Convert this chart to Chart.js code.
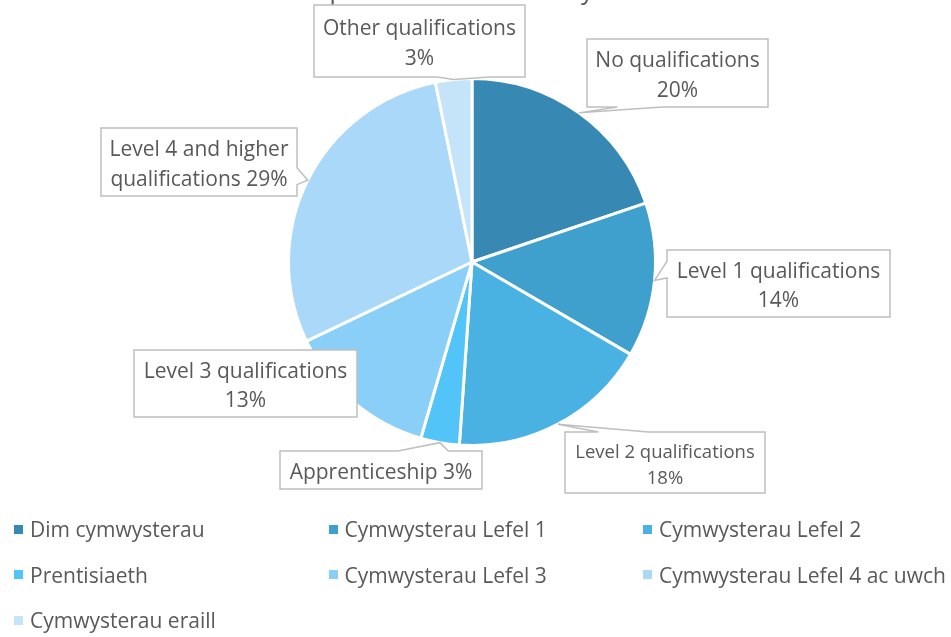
<!DOCTYPE html>
<html>
<head>
<meta charset="utf-8">
<script src="https://cdn.jsdelivr.net/npm/chart.js@4/dist/chart.umd.min.js"></script>
<style>
    html, body { margin: 0; padding: 0; background: #fff; }
    #wrap { position: relative; width: 951px; height: 637px; overflow: hidden; }
    #legend { position: absolute; left: 14px; top: 514px; width: 940px; font-family: 'Open Sans', sans-serif; font-size: 21px; line-height: 30px; color: #595959; }
    .item { position: absolute; display: flex; align-items: center; white-space: nowrap; }
    .swatch { width: 9px; height: 9px; margin-right: 7px; }
</style>
</head>
<body>
<div id="wrap">
    <canvas id="chart" width="951" height="637"></canvas>
    <div id="legend"></div>
</div>
<script>
// Chart data
const legendLabels = ['Dim cymwysterau', 'Cymwysterau Lefel 1', 'Cymwysterau Lefel 2', 'Prentisiaeth',
    'Cymwysterau Lefel 3', 'Cymwysterau Lefel 4 ac uwch', 'Cymwysterau eraill'];
const values = [19.8, 13.6, 17.7, 3.4, 13.4, 28.9, 3.2];
// callout text, {p} is replaced by the rounded percentage
const calloutText = [
    ['No qualifications', '{p}'],
    ['Level 1 qualifications', '{p}'],
    ['Level 2 qualifications', '{p}'],
    ['Apprenticeship {p}'],
    ['Level 3 qualifications', '{p}'],
    ['Level 4 and higher', 'qualifications {p}'],
    ['Other qualifications', '{p}']
];
const chartTitle = 'Population of the area by level';

// Styling / layout
const colors = ['#3789b3', '#40a0cd', '#4ab2e3', '#53c4f7', '#89cff7', '#a9d8f8', '#c5e3f9'];
const calloutBoxes = [
    [587, 39, 181, 68],
    [667, 250, 223, 67],
    [565, 432, 200, 61],
    [280, 451, 202, 38],
    [134, 350, 223, 67],
    [101, 128, 196, 68],
    [314, 5, 211, 72]
];
const calloutFont = [21, 21, 18.5, 21, 21, 21, 21];
const FONT = "'Open Sans', sans-serif";
const TEXT = '#595959';

// Excel style rectangular callout with a wedge pointing at the slice
function drawCallout(ctx, box, tip) {
    const [x, y, w, h] = box;
    const hc = x + w / 2, vc = y + h / 2;
    const dx = tip.x - hc, dy = tip.y - vc;
    const inside = tip.x > x && tip.x < x + w && tip.y > y && tip.y < y + h;
    const xb1 = x + w * (dx > 0 ? 7 : 2) / 12, xb2 = x + w * (dx > 0 ? 10 : 5) / 12;
    const yb1 = y + h * (dy > 0 ? 7 : 2) / 12, yb2 = y + h * (dy > 0 ? 10 : 5) / 12;
    const vertical = Math.abs(dy) > Math.abs(dx * h / w);

    ctx.beginPath();
    ctx.moveTo(x, y);
    if (!inside && vertical && dy < 0) { ctx.lineTo(xb1, y); ctx.lineTo(tip.x, tip.y); ctx.lineTo(xb2, y); }
    ctx.lineTo(x + w, y);
    if (!inside && !vertical && dx > 0) { ctx.lineTo(x + w, yb1); ctx.lineTo(tip.x, tip.y); ctx.lineTo(x + w, yb2); }
    ctx.lineTo(x + w, y + h);
    if (!inside && vertical && dy > 0) { ctx.lineTo(xb2, y + h); ctx.lineTo(tip.x, tip.y); ctx.lineTo(xb1, y + h); }
    ctx.lineTo(x, y + h);
    if (!inside && !vertical && dx < 0) { ctx.lineTo(x, yb2); ctx.lineTo(tip.x, tip.y); ctx.lineTo(x, yb1); }
    ctx.closePath();
    ctx.fillStyle = '#ffffff';
    ctx.fill();
    ctx.strokeStyle = '#bfbfbf';
    ctx.lineWidth = 1.5;
    ctx.stroke();
}

const calloutPlugin = {
    id: 'callouts',
    afterDraw(chart) {
        const ctx = chart.ctx;
        const meta = chart.getDatasetMeta(0);
        const data = chart.data.datasets[0].data;
        const total = data.reduce((a, b) => a + b, 0);
        ctx.save();

        // title, mostly cropped by the top edge
        ctx.font = '25px ' + FONT;
        ctx.fillStyle = TEXT;
        ctx.textAlign = 'left';
        ctx.textBaseline = 'alphabetic';
        ctx.fillText(chartTitle, 331 - ctx.measureText('Po').width - 1.5, -1);

        meta.data.forEach((arc, i) => {
            const p = arc.getProps(['x', 'y', 'startAngle', 'endAngle', 'outerRadius'], true);
            const mid = (p.startAngle + p.endAngle) / 2;
            const tip = { x: p.x + Math.cos(mid) * p.outerRadius, y: p.y + Math.sin(mid) * p.outerRadius };
            const box = calloutBoxes[i];
            drawCallout(ctx, box, tip);

            const pct = Math.round(data[i] / total * 100) + '%';
            const lines = calloutText[i].map(t => t.replace('{p}', pct));
            const size = calloutFont[i];
            const lh = size * 1.41;
            ctx.font = size + 'px ' + FONT;
            ctx.fillStyle = TEXT;
            ctx.textAlign = 'center';
            ctx.textBaseline = 'middle';
            const y0 = box[1] + box[3] / 2 + 3 - (lines.length - 1) * lh / 2;
            lines.forEach((t, k) => ctx.fillText(t, box[0] + box[2] / 2, y0 + k * lh));
        });
        ctx.restore();
    }
};

const chart = new Chart(document.getElementById('chart'), {
    type: 'pie',
    data: {
        labels: legendLabels,
        datasets: [{
            data: values,
            backgroundColor: colors,
            borderColor: '#ffffff',
            borderWidth: 3,
            hoverBorderWidth: 3
        }]
    },
    options: {
        responsive: false,
        animation: false,
        layout: {
            padding: { left: 287, right: 294, top: 77, bottom: 190 }
        },
        plugins: {
            legend: { display: false },
            tooltip: { enabled: false }
        }
    },
    plugins: [calloutPlugin]
});

// legend in three fixed columns
const legendEl = document.getElementById('legend');
chart.data.labels.forEach((label, i) => {
    const item = document.createElement('div');
    item.className = 'item';
    item.style.left = (i % 3) * 314.5 + 'px';
    item.style.top = Math.floor(i / 3) * 45.5 + 'px';
    item.innerHTML = '<span class="swatch" style="background:' + colors[i] + '"></span>' + label;
    legendEl.appendChild(item);
});
</script>
</body>
</html>
